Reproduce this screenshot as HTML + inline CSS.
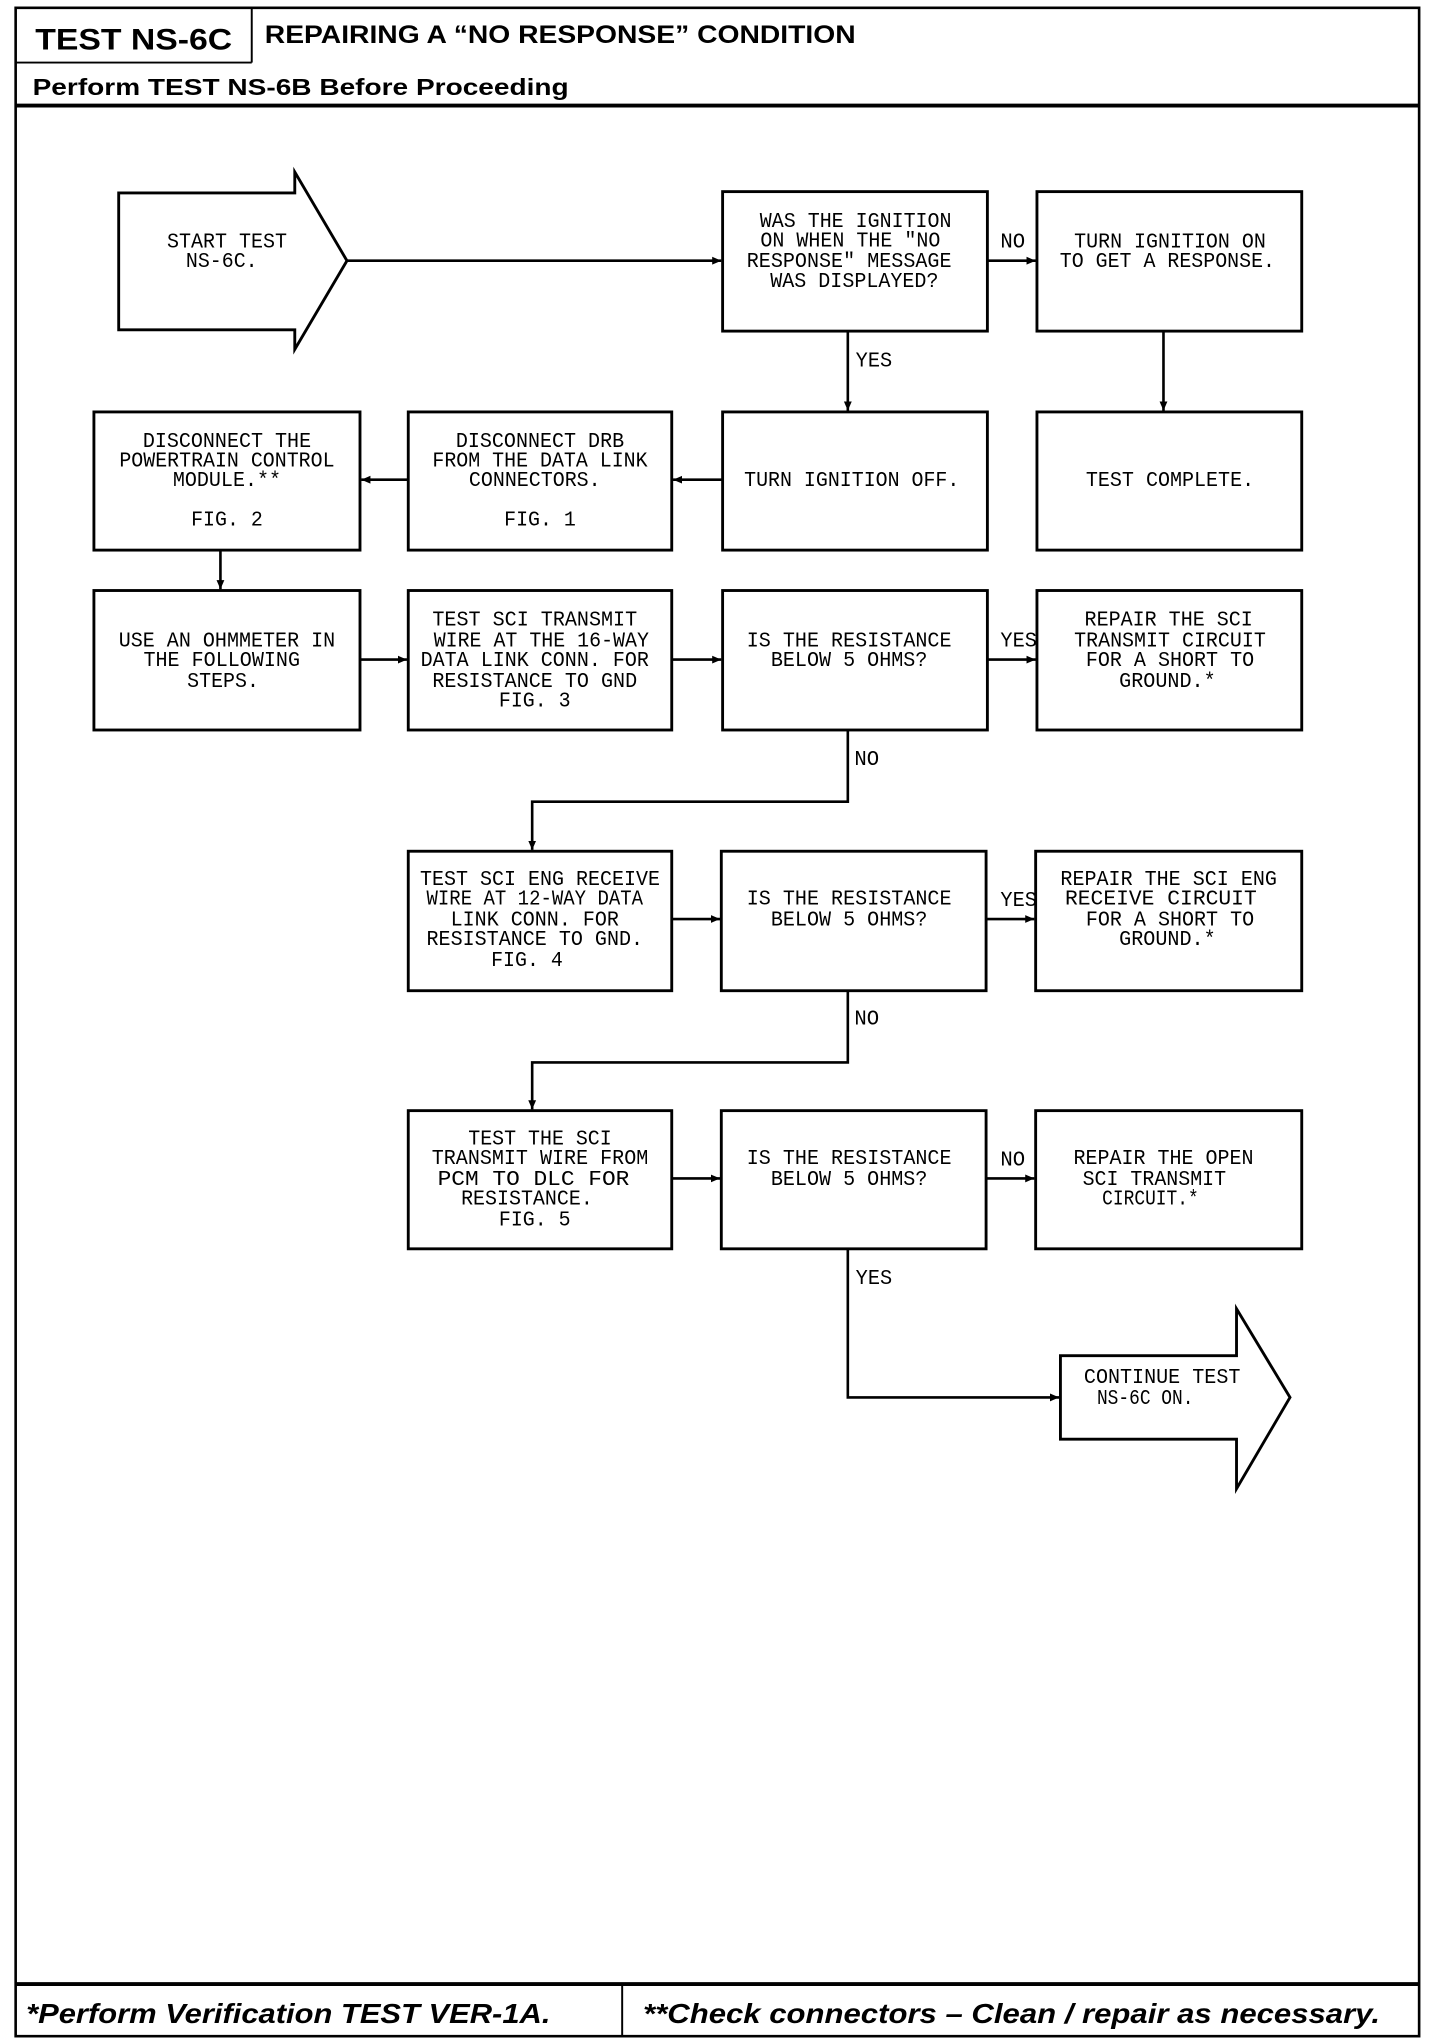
<!DOCTYPE html>
<html><head><meta charset="utf-8"><style>
html,body{margin:0;padding:0;background:#fff}
svg{display:block}
.t{font-family:"Liberation Mono",monospace;font-size:16px;fill:#000;text-anchor:middle}
.l{font-family:"Liberation Mono",monospace;font-size:16px;fill:#000}
.b{fill:none;stroke:#000;stroke-width:2.2}
.c{fill:none;stroke:#000;stroke-width:2}
</style></head><body>
<svg width="1440" height="2044" viewBox="0 0 1104 1568" preserveAspectRatio="none" xmlns="http://www.w3.org/2000/svg">
<defs><marker id="a" markerWidth="8" markerHeight="8" refX="7" refY="4" orient="auto" markerUnits="userSpaceOnUse"><path d="M0,1 L7,4 L0,7 Z" fill="#000"/></marker></defs>
<rect x="12" y="6" width="1076" height="1556" fill="none" stroke="#000" stroke-width="2"/>
<line x1="12" y1="48" x2="193" y2="48" stroke="#000" stroke-width="1.5"/>
<line x1="193" y1="6" x2="193" y2="48" stroke="#000" stroke-width="1.5"/>
<line x1="12" y1="81" x2="1088" y2="81" stroke="#000" stroke-width="3"/>
<line x1="12" y1="1522" x2="1088" y2="1522" stroke="#000" stroke-width="3"/>
<line x1="477" y1="1522" x2="477" y2="1562" stroke="#000" stroke-width="1.5"/>
<text x="27" y="38" style="font-family:'Liberation Sans',sans-serif;font-weight:bold;font-size:23px" textLength="151" lengthAdjust="spacingAndGlyphs">TEST NS-6C</text>
<text x="203" y="33" style="font-family:'Liberation Sans',sans-serif;font-weight:bold;font-size:19px" textLength="453" lengthAdjust="spacingAndGlyphs">REPAIRING A “NO RESPONSE” CONDITION</text>
<text x="25" y="73" style="font-family:'Liberation Sans',sans-serif;font-weight:bold;font-size:18px" textLength="411" lengthAdjust="spacingAndGlyphs">Perform TEST NS-6B Before Proceeding</text>
<text x="20" y="1552" style="font-family:'Liberation Sans',sans-serif;font-weight:bold;font-style:italic;font-size:21px" textLength="402" lengthAdjust="spacingAndGlyphs">*Perform Verification TEST VER-1A.</text>
<text x="493" y="1552" style="font-family:'Liberation Sans',sans-serif;font-weight:bold;font-style:italic;font-size:21px" textLength="565" lengthAdjust="spacingAndGlyphs">**Check connectors – Clean / repair as necessary.</text>

<path class="b" d="M226,148 L91,148 L91,253 L226,253 L226,268 L266,200 L226,132 Z"/>
<path class="b" d="M948,1040 L813,1040 L813,1104 L948,1104 L948,1142 L989,1072 L948,1004 Z"/>

<rect class="b" x="554" y="147" width="203" height="107"/>
<rect class="b" x="795" y="147" width="203" height="107"/>
<rect class="b" x="72" y="316" width="204" height="106"/>
<rect class="b" x="313" y="316" width="202" height="106"/>
<rect class="b" x="554" y="316" width="203" height="106"/>
<rect class="b" x="795" y="316" width="203" height="106"/>
<rect class="b" x="72" y="453" width="204" height="107"/>
<rect class="b" x="313" y="453" width="202" height="107"/>
<rect class="b" x="554" y="453" width="203" height="107"/>
<rect class="b" x="795" y="453" width="203" height="107"/>
<rect class="b" x="313" y="653" width="202" height="107"/>
<rect class="b" x="553" y="653" width="203" height="107"/>
<rect class="b" x="794" y="653" width="204" height="107"/>
<rect class="b" x="313" y="852" width="202" height="106"/>
<rect class="b" x="553" y="852" width="203" height="106"/>
<rect class="b" x="794" y="852" width="204" height="106"/>

<line class="c" x1="266" y1="200" x2="553" y2="200" marker-end="url(#a)"/>
<line class="c" x1="757" y1="200" x2="794" y2="200" marker-end="url(#a)"/>
<line class="c" x1="650" y1="254" x2="650" y2="315" marker-end="url(#a)"/>
<line class="c" x1="892" y1="254" x2="892" y2="315" marker-end="url(#a)"/>
<line class="c" x1="554" y1="368" x2="516" y2="368" marker-end="url(#a)"/>
<line class="c" x1="313" y1="368" x2="277" y2="368" marker-end="url(#a)"/>
<line class="c" x1="169" y1="422" x2="169" y2="452" marker-end="url(#a)"/>
<line class="c" x1="276" y1="506" x2="312" y2="506" marker-end="url(#a)"/>
<line class="c" x1="515" y1="506" x2="553" y2="506" marker-end="url(#a)"/>
<line class="c" x1="757" y1="506" x2="794" y2="506" marker-end="url(#a)"/>
<polyline class="c" points="650,560 650,615 408,615 408,652" marker-end="url(#a)"/>
<line class="c" x1="515" y1="705" x2="552" y2="705" marker-end="url(#a)"/>
<line class="c" x1="756" y1="705" x2="793" y2="705" marker-end="url(#a)"/>
<polyline class="c" points="650,760 650,815 408,815 408,851" marker-end="url(#a)"/>
<line class="c" x1="515" y1="904" x2="552" y2="904" marker-end="url(#a)"/>
<line class="c" x1="756" y1="904" x2="793" y2="904" marker-end="url(#a)"/>
<polyline class="c" points="650,958 650,1072 812,1072" marker-end="url(#a)"/>

<text class="l" x="767" y="190" textLength="19" lengthAdjust="spacingAndGlyphs">NO</text>
<text class="l" x="656" y="281" textLength="28" lengthAdjust="spacingAndGlyphs">YES</text>
<text class="l" x="767" y="496" textLength="28" lengthAdjust="spacingAndGlyphs">YES</text>
<text class="l" x="655" y="587" textLength="19" lengthAdjust="spacingAndGlyphs">NO</text>
<text class="l" x="767" y="695" textLength="28" lengthAdjust="spacingAndGlyphs">YES</text>
<text class="l" x="655" y="786" textLength="19" lengthAdjust="spacingAndGlyphs">NO</text>
<text class="l" x="767" y="894" textLength="19" lengthAdjust="spacingAndGlyphs">NO</text>
<text class="l" x="656" y="985" textLength="28" lengthAdjust="spacingAndGlyphs">YES</text>

<text class="t" x="174" y="190" textLength="92" lengthAdjust="spacingAndGlyphs">START TEST</text>
<text class="t" x="170" y="205" textLength="55" lengthAdjust="spacingAndGlyphs">NS-6C.</text>

<text class="t" x="656" y="174" textLength="147" lengthAdjust="spacingAndGlyphs">WAS THE IGNITION</text>
<text class="t" x="652" y="189" textLength="138" lengthAdjust="spacingAndGlyphs">ON WHEN THE "NO</text>
<text class="t" x="651" y="205" textLength="157" lengthAdjust="spacingAndGlyphs">RESPONSE" MESSAGE</text>
<text class="t" x="655" y="220" textLength="129" lengthAdjust="spacingAndGlyphs">WAS DISPLAYED?</text>

<text class="t" x="897" y="190" textLength="147" lengthAdjust="spacingAndGlyphs">TURN IGNITION ON</text>
<text class="t" x="895" y="205" textLength="165" lengthAdjust="spacingAndGlyphs">TO GET A RESPONSE.</text>

<text class="t" x="174" y="343" textLength="129" lengthAdjust="spacingAndGlyphs">DISCONNECT THE</text>
<text class="t" x="174" y="358" textLength="165" lengthAdjust="spacingAndGlyphs">POWERTRAIN CONTROL</text>
<text class="t" x="174" y="373" textLength="83" lengthAdjust="spacingAndGlyphs">MODULE.**</text>
<text class="t" x="174" y="403" textLength="55" lengthAdjust="spacingAndGlyphs">FIG. 2</text>

<text class="t" x="414" y="343" textLength="129" lengthAdjust="spacingAndGlyphs">DISCONNECT DRB</text>
<text class="t" x="414" y="358" textLength="165" lengthAdjust="spacingAndGlyphs">FROM THE DATA LINK</text>
<text class="t" x="410" y="373" textLength="101" lengthAdjust="spacingAndGlyphs">CONNECTORS.</text>
<text class="t" x="414" y="403" textLength="55" lengthAdjust="spacingAndGlyphs">FIG. 1</text>

<text class="t" x="653" y="373" textLength="165" lengthAdjust="spacingAndGlyphs">TURN IGNITION OFF.</text>
<text class="t" x="897" y="373" textLength="129" lengthAdjust="spacingAndGlyphs">TEST COMPLETE.</text>

<text class="t" x="174" y="496" textLength="166" lengthAdjust="spacingAndGlyphs">USE AN OHMMETER IN</text>
<text class="t" x="170" y="511" textLength="120" lengthAdjust="spacingAndGlyphs">THE FOLLOWING</text>
<text class="t" x="171" y="527" textLength="55" lengthAdjust="spacingAndGlyphs">STEPS.</text>

<text class="t" x="410" y="480" textLength="157" lengthAdjust="spacingAndGlyphs">TEST SCI TRANSMIT</text>
<text class="t" x="415" y="496" textLength="165" lengthAdjust="spacingAndGlyphs">WIRE AT THE 16-WAY</text>
<text class="t" x="410" y="511" textLength="175" lengthAdjust="spacingAndGlyphs">DATA LINK CONN. FOR</text>
<text class="t" x="410" y="527" textLength="157" lengthAdjust="spacingAndGlyphs">RESISTANCE TO GND</text>
<text class="t" x="410" y="542" textLength="55" lengthAdjust="spacingAndGlyphs">FIG. 3</text>

<text class="t" x="651" y="496" textLength="157" lengthAdjust="spacingAndGlyphs">IS THE RESISTANCE</text>
<text class="t" x="651" y="511" textLength="120" lengthAdjust="spacingAndGlyphs">BELOW 5 OHMS?</text>

<text class="t" x="896" y="480" textLength="129" lengthAdjust="spacingAndGlyphs">REPAIR THE SCI</text>
<text class="t" x="897" y="496" textLength="147" lengthAdjust="spacingAndGlyphs">TRANSMIT CIRCUIT</text>
<text class="t" x="897" y="511" textLength="129" lengthAdjust="spacingAndGlyphs">FOR A SHORT TO</text>
<text class="t" x="895" y="527" textLength="74" lengthAdjust="spacingAndGlyphs">GROUND.*</text>

<text class="t" x="414" y="679" textLength="184" lengthAdjust="spacingAndGlyphs">TEST SCI ENG RECEIVE</text>
<text class="t" x="410" y="694" textLength="166" lengthAdjust="spacingAndGlyphs">WIRE AT 12-WAY DATA</text>
<text class="t" x="410" y="710" textLength="129" lengthAdjust="spacingAndGlyphs">LINK CONN. FOR</text>
<text class="t" x="410" y="725" textLength="166" lengthAdjust="spacingAndGlyphs">RESISTANCE TO GND.</text>
<text class="t" x="404" y="741" textLength="55" lengthAdjust="spacingAndGlyphs">FIG. 4</text>

<text class="t" x="651" y="694" textLength="157" lengthAdjust="spacingAndGlyphs">IS THE RESISTANCE</text>
<text class="t" x="651" y="710" textLength="120" lengthAdjust="spacingAndGlyphs">BELOW 5 OHMS?</text>

<text class="t" x="896" y="679" textLength="166" lengthAdjust="spacingAndGlyphs">REPAIR THE SCI ENG</text>
<text class="t" x="890" y="694" textLength="147" lengthAdjust="spacingAndGlyphs">RECEIVE CIRCUIT</text>
<text class="t" x="897" y="710" textLength="129" lengthAdjust="spacingAndGlyphs">FOR A SHORT TO</text>
<text class="t" x="895" y="725" textLength="74" lengthAdjust="spacingAndGlyphs">GROUND.*</text>

<text class="t" x="414" y="878" textLength="110" lengthAdjust="spacingAndGlyphs">TEST THE SCI</text>
<text class="t" x="414" y="893" textLength="166" lengthAdjust="spacingAndGlyphs">TRANSMIT WIRE FROM</text>
<text class="t" x="409" y="909" textLength="147" lengthAdjust="spacingAndGlyphs">PCM TO DLC FOR</text>
<text class="t" x="404" y="924" textLength="101" lengthAdjust="spacingAndGlyphs">RESISTANCE.</text>
<text class="t" x="410" y="940" textLength="55" lengthAdjust="spacingAndGlyphs">FIG. 5</text>

<text class="t" x="651" y="893" textLength="157" lengthAdjust="spacingAndGlyphs">IS THE RESISTANCE</text>
<text class="t" x="651" y="909" textLength="120" lengthAdjust="spacingAndGlyphs">BELOW 5 OHMS?</text>

<text class="t" x="892" y="893" textLength="138" lengthAdjust="spacingAndGlyphs">REPAIR THE OPEN</text>
<text class="t" x="885" y="909" textLength="110" lengthAdjust="spacingAndGlyphs">SCI TRANSMIT</text>
<text class="t" x="882" y="924" textLength="74" lengthAdjust="spacingAndGlyphs">CIRCUIT.*</text>

<text class="t" x="891" y="1061" textLength="120" lengthAdjust="spacingAndGlyphs">CONTINUE TEST</text>
<text class="t" x="878" y="1077" textLength="74" lengthAdjust="spacingAndGlyphs">NS-6C ON.</text>
</svg>
</body></html>
